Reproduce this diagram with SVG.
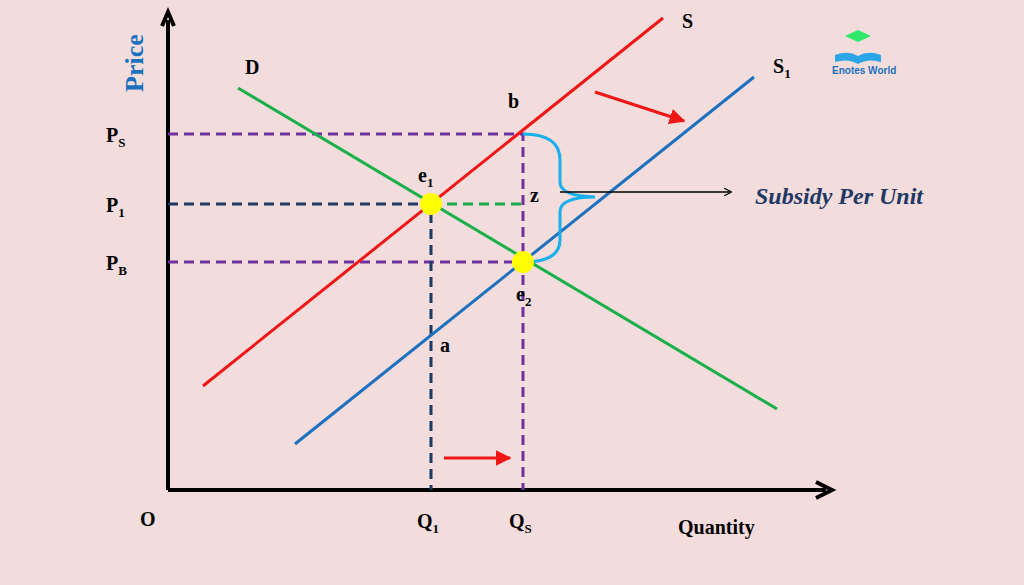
<svg xmlns="http://www.w3.org/2000/svg" width="1024" height="585" viewBox="0 0 1024 585">
<style>
.t{font-family:"Liberation Serif",serif;font-weight:bold;font-size:20px;fill:#000}
.s{font-size:13px}
.d{stroke-width:3;stroke-dasharray:10,6;fill:none}
</style>
<defs>
<marker id="ah" viewBox="0 0 10 10" refX="8" refY="5" markerWidth="8" markerHeight="8" orient="auto" markerUnits="userSpaceOnUse"><path d="M0,0 L10,5 L0,10" fill="none" stroke="#000" stroke-width="1.5"/></marker>
<marker id="ra" viewBox="0 0 10 10" refX="9" refY="5" markerWidth="16" markerHeight="16" orient="auto" markerUnits="userSpaceOnUse"><path d="M0,0 L10,5 L0,10 Z" fill="#f01616"/></marker>
</defs>
<rect width="1024" height="585" fill="#f2dcdc"/>
<g id="connectors">
<path d="M168,490 V20" stroke="#000" stroke-width="4" fill="none"/>
<path d="M162,26 L168,12 L174,26" stroke="#000" stroke-width="4" fill="none"/>
<path d="M168,490 H826" stroke="#000" stroke-width="4" fill="none"/>
<path d="M816,482 L832,490 L816,498" stroke="#000" stroke-width="4" fill="none"/>
<path class="d" stroke="#7030a0" d="M168,134 H523 V490"/>
<path class="d" stroke="#7030a0" d="M168,262 H523"/>
<path class="d" stroke="#1f3864" d="M168,204 H431 V490"/>
<path class="d" stroke="#1aa84a" stroke-width="4" d="M431,204 H523"/>
<line x1="238" y1="88" x2="777" y2="409" stroke="#19b04a" stroke-width="3"/>
<line x1="203" y1="386" x2="663" y2="18" stroke="#f01616" stroke-width="3"/>
<line x1="295" y1="444" x2="754" y2="77" stroke="#1b70c0" stroke-width="3"/>
<path d="M523,134 Q560,134 560,160 V182 Q560,196 595,197 Q560,197 560,212 V240 Q560,262 523,262" stroke="#16b0ea" stroke-width="3" fill="none"/>
<line x1="560" y1="192" x2="730" y2="192" stroke="#000" stroke-width="1.5" marker-end="url(#ah)"/>
<line x1="595" y1="92" x2="684" y2="121" stroke="#f01616" stroke-width="3" marker-end="url(#ra)"/>
<line x1="444" y1="458" x2="510" y2="458" stroke="#f01616" stroke-width="3" marker-end="url(#ra)"/>
</g>
<g id="e1"><circle cx="431" cy="204" r="11" fill="#ffff00"/></g>
<g id="e2"><circle cx="523" cy="262" r="11" fill="#ffff00"/></g>
<g id="labels">
<text class="t" x="143" y="92" transform="rotate(-90 143 92)" style="fill:#1b70c0;font-size:26px">Price</text>
<text class="t" x="245" y="74">D</text>
<text class="t" x="682" y="28">S</text>
<text class="t" x="773" y="73">S<tspan class="s" dy="5">1</tspan></text>
<text class="t" x="508" y="108">b</text>
<text class="t" x="418" y="182">e<tspan class="s" dy="5">1</tspan></text>
<text class="t" x="530" y="202">z</text>
<text class="t" x="516" y="301">e<tspan class="s" dy="5">2</tspan></text>
<text class="t" x="440" y="352">a</text>
<text class="t" x="106" y="142">P<tspan class="s" dy="5">S</tspan></text>
<text class="t" x="106" y="212">P<tspan class="s" dy="5">1</tspan></text>
<text class="t" x="106" y="270">P<tspan class="s" dy="5">B</tspan></text>
<text class="t" x="140" y="526">O</text>
<text class="t" x="417" y="528">Q<tspan class="s" dy="5">1</tspan></text>
<text class="t" x="509" y="528">Q<tspan class="s" dy="5">S</tspan></text>
<text class="t" x="678" y="534">Quantity</text>
<text class="t" x="755" y="204" style="fill:#1f3864;font-style:italic;font-size:24px">Subsidy Per Unit</text>
</g>
<g id="logo">
<path d="M835,55 Q848,50 858,56 Q868,50 881,55 L881,62 Q868,58 858,64 Q848,58 835,62 Z" fill="#2aa6e8"/>
<path d="M845,36 L858,30 L871,36 L858,42 Z" fill="#2ee86a"/>
<text x="832" y="74" style="font-family:'Liberation Sans',sans-serif;font-size:10px;font-weight:bold;fill:#1b70c0">Enotes World</text>
</g>
</svg>
